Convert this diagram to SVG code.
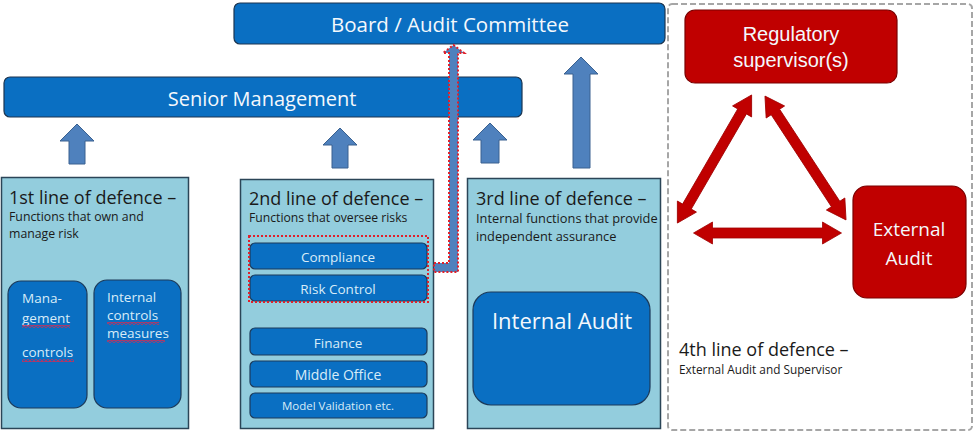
<svg xmlns="http://www.w3.org/2000/svg" width="974" height="432" viewBox="0 0 974 432">
<defs>
<style>
.top{fill:#0a6fc2;stroke:#1c3550;stroke-width:1.2}
.lane{fill:#93cddd;stroke:#2b4557;stroke-width:1.5}
.inner{fill:#0a6fc2;stroke:#1c3a5a;stroke-width:1.2}
.up{fill:#4f81bd;stroke:#3a6190;stroke-width:1}
.red{fill:#c00000;stroke:#7a0000;stroke-width:1.2}
.redarrow{fill:#c00000;stroke:#a00000;stroke-width:0.8}
.t{font-family:"Open Sans","DejaVu Sans",sans-serif}
.w{fill:#f4f8fc}
.lt{fill:#d8ecf8}
.dk{fill:#1a1a1a}
.ar{font-family:"Liberation Sans",Arial,sans-serif}
</style>
<pattern id="wave" width="4" height="3" patternUnits="userSpaceOnUse">
<path d="M0,2.5 L2,0.5 L4,2.5" stroke="#c8305a" fill="none" stroke-width="1.1"/>
</pattern>
<path id="dbl" d="M-74,0 L-55,-11 L-55,-5 L55,-5 L55,-11 L74,0 L55,11 L55,5 L-55,5 L-55,11 Z"/>
</defs>

<g id="board">
<rect class="top" x="234" y="3" width="431" height="41" rx="6"/>
<text class="t w" x="450" y="32" font-size="20.5" text-anchor="middle">Board / Audit Committee</text>
</g>

<g id="senior-management">
<rect class="top" x="4" y="77" width="518" height="40" rx="6"/>
<text class="t w" x="262" y="106" font-size="20" text-anchor="middle">Senior Management</text>
</g>

<g id="line1">
<rect class="lane" x="1.5" y="177.5" width="187" height="251"/>
<text class="t dk" x="9" y="204" font-size="18">1st line of defence –</text>
<text class="t dk" x="9" y="221" font-size="12.3">Functions that own and</text>
<text class="t dk" x="9" y="238" font-size="12.3">manage risk</text>
<g id="mgmt-controls">
<rect class="inner" x="8" y="281" width="79" height="127" rx="13"/>
<text class="t lt" x="22" y="303" font-size="13.5">Mana-</text>
<text class="t lt" x="22" y="323" font-size="13.5">gement</text>
<text class="t lt" x="22" y="357" font-size="13.5">controls</text>
<rect x="22" y="325" width="48" height="3" fill="url(#wave)"/>
<rect x="22" y="359" width="52" height="3" fill="url(#wave)"/>
</g>
<g id="internal-controls">
<rect class="inner" x="94" y="280" width="87" height="128" rx="13"/>
<text class="t lt" x="107" y="302" font-size="13.5">Internal</text>
<text class="t lt" x="107" y="320" font-size="13.5">controls</text>
<text class="t lt" x="107" y="338" font-size="13.5">measures</text>
<rect x="107" y="322" width="52" height="3" fill="url(#wave)"/>
<rect x="107" y="340" width="58" height="3" fill="url(#wave)"/>
</g>
</g>

<g id="line2">
<rect class="lane" x="240.5" y="179.5" width="193" height="249"/>
<text class="t dk" x="249" y="205" font-size="18">2nd line of defence –</text>
<text class="t dk" x="249" y="222" font-size="12.2">Functions that oversee risks</text>
<g id="compliance">
<rect class="inner" x="250" y="243" width="177" height="26" rx="5"/>
<text class="t lt" x="338" y="262" font-size="13.5" text-anchor="middle">Compliance</text>
</g>
<g id="risk-control">
<rect class="inner" x="250" y="275" width="177" height="26" rx="5"/>
<text class="t lt" x="338" y="294" font-size="13.5" text-anchor="middle">Risk Control</text>
</g>
<rect x="249" y="236" width="179" height="66" fill="none" stroke="#e0202a" stroke-width="2" stroke-dasharray="2 2"/>
<g id="finance">
<rect class="inner" x="250" y="328" width="177" height="27" rx="5"/>
<text class="t lt" x="338" y="348" font-size="13.5" text-anchor="middle">Finance</text>
</g>
<g id="middle-office">
<rect class="inner" x="250" y="361" width="177" height="26" rx="5"/>
<text class="t lt" x="338" y="380" font-size="14" text-anchor="middle">Middle Office</text>
</g>
<g id="model-validation">
<rect class="inner" x="250" y="393" width="177" height="25" rx="5"/>
<text class="t lt" x="338" y="410" font-size="11.5" text-anchor="middle">Model Validation etc.</text>
</g>
</g>

<g id="line3">
<rect class="lane" x="467.5" y="178.5" width="193" height="250"/>
<text class="t dk" x="476" y="205" font-size="18">3rd line of defence –</text>
<text class="t dk" x="476" y="223" font-size="12.8">Internal functions that provide</text>
<text class="t dk" x="476" y="241" font-size="12.8">independent assurance</text>
<g id="internal-audit">
<rect class="inner" x="473" y="292" width="177" height="113" rx="18"/>
<text class="t w" x="562" y="329" font-size="22" text-anchor="middle">Internal Audit</text>
</g>
</g>

<g id="line4">
<rect x="668" y="4" width="304" height="426" rx="4" fill="none" stroke="#a6a6a6" stroke-width="2" stroke-dasharray="6 3"/>
<text class="t dk" x="679" y="356" font-size="18">4th line of defence –</text>
<text class="t dk" x="679" y="374" font-size="11.8">External Audit and Supervisor</text>
</g>

<g id="regulatory-supervisor">
<rect class="red" x="685" y="10" width="212" height="73" rx="10"/>
<text class="ar w" x="791" y="41" font-size="20" text-anchor="middle">Regulatory</text>
<text class="ar w" x="791" y="67" font-size="20" text-anchor="middle">supervisor(s)</text>
</g>

<g id="external-audit">
<rect class="red" x="853" y="186" width="113" height="112" rx="14"/>
<text class="t w" x="909" y="236" font-size="19" text-anchor="middle">External</text>
<text class="t w" x="909" y="265" font-size="19" text-anchor="middle">Audit</text>
</g>

<g id="connectors">
<polygon class="up" points="77,124 94,141 85,141 85,164 69,164 69,141 60,141"/>
<polygon class="up" points="340,128 357,145 348,145 348,168 332,168 332,145 323,145"/>
<polygon class="up" points="490,123 507,140 499,140 499,163 481,163 481,140 473,140"/>
<polygon class="up" points="581,57 598,74 590,74 590,168 573,168 573,74 564,74"/>
<path d="M434,263 L449,263 L449,53 L443,53 L453.5,45 L464,53 L458,53 L458,272 L434,272 Z" fill="#4f81bd" stroke="#e0202a" stroke-width="2" stroke-dasharray="2 2"/>
<use href="#dbl" class="redarrow" transform="translate(714.5,159) rotate(-59.9)"/>
<use href="#dbl" class="redarrow" transform="translate(805.5,158) rotate(56.8)"/>
<use href="#dbl" class="redarrow" transform="translate(767.5,233)"/>
</g>
</svg>
